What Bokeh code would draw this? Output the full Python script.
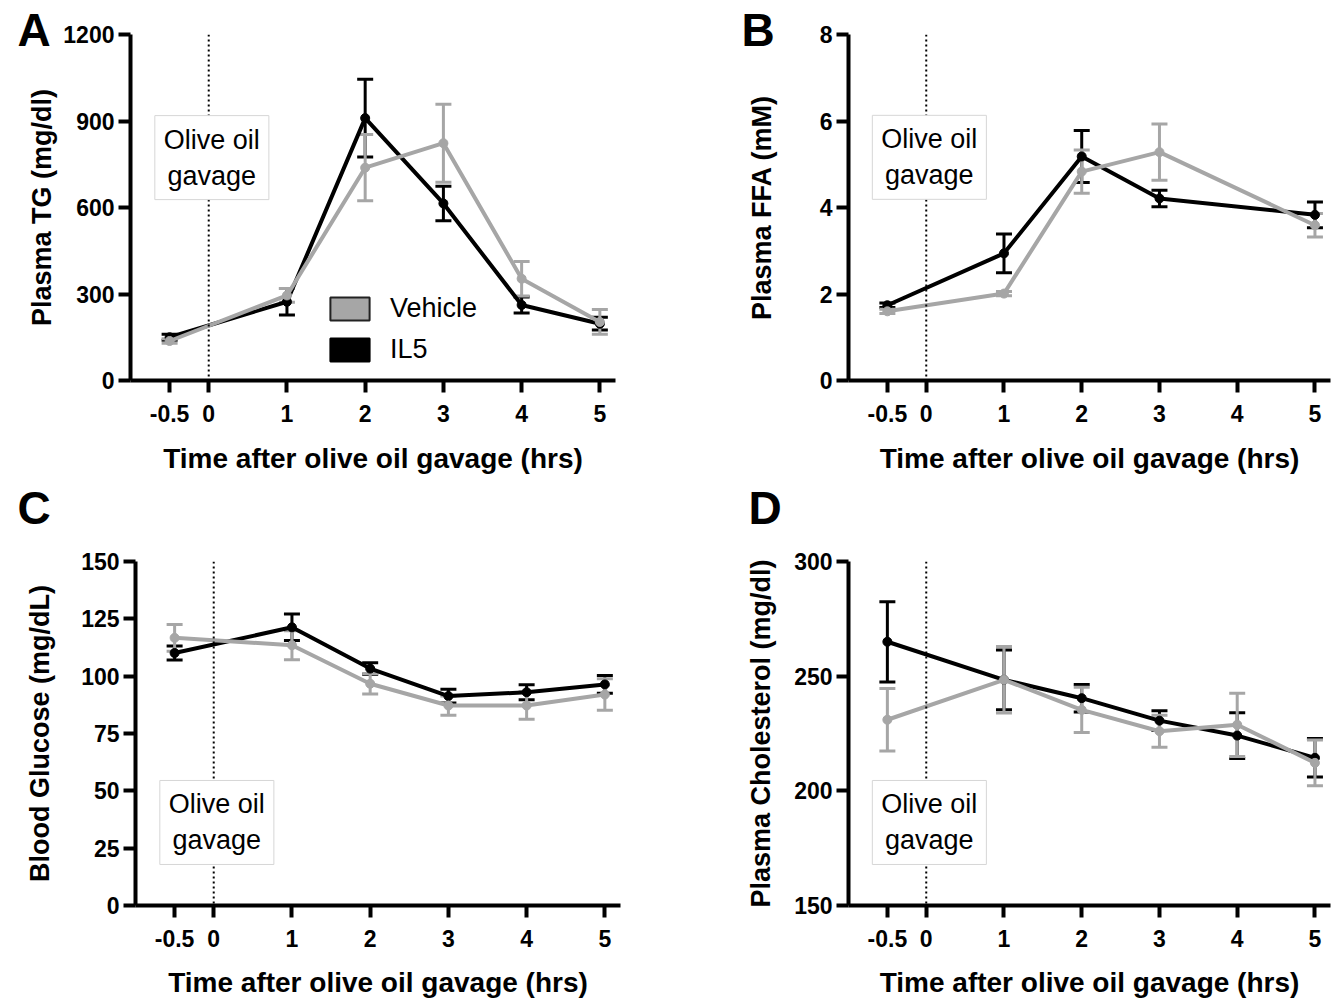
from bokeh.plotting import figure
from bokeh.models import (Range1d, FixedTicker, Span, Label, Whisker, TeeHead, Title,
                          ColumnDataSource, Legend, LegendItem)
from bokeh.layouts import column, row
from bokeh.embed import file_html
from bokeh.resources import INLINE

# ---------------- data ----------------
x_ticks = [-0.5, 0, 1, 2, 3, 4, 5]
x_tick_labels = ["-0.5", "0", "1", "2", "3", "4", "5"]
x_title = "Time after olive oil gavage (hrs)"
series_names = ["Vehicle", "IL5"]
note_text = "Olive oil\ngavage"
panel_letters = ["A", "B", "C", "D"]

# Panel A: plasma TG (mg/dl)
tg_time = [-0.5, 1, 2, 3, 4, 5]
tg_vehicle = [137, 295, 738, 823, 353, 203]
tg_vehicle_sem = [8, 24, 115, 135, 60, 43]
tg_il5 = [150, 273, 910, 614, 262, 197]
tg_il5_sem = [10, 46, 135, 60, 28, 22]
tg_yticks = [0, 300, 600, 900, 1200]

# Panel B: plasma FFA (mM)
ffa_time = [-0.5, 1, 2, 3, 5]
ffa_vehicle = [1.60, 2.01, 4.83, 5.28, 3.59]
ffa_vehicle_sem = [0.05, 0.05, 0.50, 0.65, 0.27]
ffa_il5 = [1.74, 2.94, 5.18, 4.21, 3.83]
ffa_il5_sem = [0.05, 0.45, 0.60, 0.19, 0.30]
ffa_yticks = [0, 2, 4, 6, 8]

# Panel C: blood glucose (mg/dL)
glu_time = [-0.5, 1, 2, 3, 4, 5]
glu_vehicle = [116.7, 113.5, 96.7, 87.2, 87.2, 92.0]
glu_vehicle_sem = [5.8, 6.3, 4.5, 4.2, 6.0, 6.9]
glu_il5 = [110.1, 121.3, 103.3, 91.3, 93.0, 96.4]
glu_il5_sem = [3.0, 5.8, 2.5, 3.0, 3.3, 3.9]
glu_yticks = [0, 25, 50, 75, 100, 125, 150]

# Panel D: plasma cholesterol (mg/dl)
chol_time = [-0.5, 1, 2, 3, 4, 5]
chol_vehicle = [231.0, 248.4, 235.3, 226.0, 228.8, 212.2]
chol_vehicle_sem = [13.6, 14.5, 9.9, 7.0, 13.8, 10.0]
chol_il5 = [265.0, 248.4, 240.4, 230.6, 224.1, 214.4]
chol_il5_sem = [17.5, 13.0, 6.0, 4.3, 10.0, 8.4]
chol_yticks = [150, 200, 250, 300]

VEH = "#a6a6a6"
IL5 = "#000000"
FONT = "Liberation Sans"
NAN = float("nan")


def letter_title(text, offset, valign, standoff):
    return Title(text=text, align="left", vertical_align=valign, offset=offset,
                 standoff=standoff, text_font=FONT, text_font_style="bold",
                 text_font_size="46px", text_color="black")


def add_series(p, t, m, s, color):
    src = ColumnDataSource(dict(x=t, y=m,
                                upper=[a + b for a, b in zip(m, s)],
                                lower=[a - b for a, b in zip(m, s)]))
    p.add_layout(Whisker(source=src, base="x", upper="upper", lower="lower",
                         line_color=color, line_width=3,
                         upper_head=TeeHead(size=16, line_color=color, line_width=3),
                         lower_head=TeeHead(size=16, line_color=color, line_width=3)))
    p.line("x", "y", source=src, line_color=color, line_width=4)
    p.scatter("x", "y", source=src, size=9, fill_color=color, line_color=color)


def panel(t, veh, veh_s, il5, il5_s, yticks, ytitle, note_y,
          width, height, bl, br, bt, bb, ylab_so, xlab_so,
          top_letter=None, below_letter=None, legend=False):
    p = figure(width=width, height=height,
               x_range=Range1d(-1, 5.2), y_range=Range1d(yticks[0], yticks[-1]),
               output_backend="svg", toolbar_location=None,
               min_border_left=bl, min_border_right=br,
               min_border_top=bt, min_border_bottom=bb,
               background_fill_color="white", border_fill_color="white",
               outline_line_color=None)
    p.xgrid.visible = False
    p.ygrid.visible = False

    for ax in (p.xaxis[0], p.yaxis[0]):
        ax.axis_line_width = 4
        ax.axis_line_color = "black"
        ax.major_tick_line_width = 4
        ax.major_tick_line_color = "black"
        ax.major_tick_out = 12
        ax.major_tick_in = 0
        ax.minor_tick_out = 0
        ax.minor_tick_in = 0
        ax.major_label_text_font = FONT
        ax.major_label_text_font_style = "bold"
        ax.major_label_text_font_size = "23px"
        ax.major_label_text_color = "black"
        ax.axis_label_text_font = FONT
        ax.axis_label_text_font_style = "bold"
        ax.axis_label_text_color = "black"

    p.xaxis.ticker = FixedTicker(ticks=x_ticks)
    p.xaxis.major_label_overrides = dict(zip(x_ticks, x_tick_labels))
    p.xaxis.major_label_standoff = 12
    p.xaxis.axis_label = x_title
    p.xaxis.axis_label_standoff = xlab_so
    p.xaxis.axis_label_text_font_size = "28px"

    p.yaxis.ticker = FixedTicker(ticks=yticks)
    p.yaxis.major_label_standoff = 4
    p.yaxis.axis_label = ytitle
    p.yaxis.axis_label_standoff = ylab_so
    p.yaxis.axis_label_text_font_size = "27px"

    p.add_layout(Span(location=0, dimension="height", line_color="black",
                      line_width=2, line_dash="2 3"))

    add_series(p, t, il5, il5_s, IL5)
    add_series(p, t, veh, veh_s, VEH)

    p.add_layout(Label(x=0.04, y=note_y, text=note_text, text_align="center",
                       text_baseline="middle", text_font=FONT, text_font_size="27px",
                       text_color="black", background_fill_color="white",
                       border_line_color="#d6d6d6", border_line_width=1, padding=9))

    if top_letter is not None:
        p.title = letter_title(*top_letter)
    if below_letter is not None:
        p.add_layout(letter_title(*below_letter), "below")

    if legend:
        rv = p.quad(left=[NAN], right=[NAN], top=[NAN], bottom=[NAN], fill_color=VEH,
                    line_color="#222222", line_width=2)
        ri = p.quad(left=[NAN], right=[NAN], top=[NAN], bottom=[NAN], fill_color=IL5,
                    line_color=IL5, line_width=2)
        leg = Legend(items=[LegendItem(label=series_names[0], renderers=[rv]),
                            LegendItem(label=series_names[1], renderers=[ri])],
                     location=(195, 15), padding=0, margin=0, spacing=10,
                     glyph_width=49, glyph_height=29, label_standoff=16,
                     label_text_font=FONT, label_text_font_size="27px",
                     label_text_color="black", label_height=29,
                     background_fill_alpha=0, border_line_alpha=0)
        p.add_layout(leg)
    return p


# top row figures also carry the letters of the panels beneath them
pA = panel(tg_time, tg_vehicle, tg_vehicle_sem, tg_il5, tg_il5_sem,
           tg_yticks, "Plasma TG (mg/dl)", 773,
           669, 545, 130, 54, 34, 165, 3, 18,
           top_letter=(panel_letters[0], -113, "bottom", -42),
           below_letter=(panel_letters[2], -113, "bottom", 6), legend=True)
pB = panel(ffa_time, ffa_vehicle, ffa_vehicle_sem, ffa_il5, ffa_il5_sem,
           ffa_yticks, "Plasma FFA (mM)", 5.16,
           667, 545, 179, 6, 34, 165, 40, 18,
           top_letter=(panel_letters[1], -107, "bottom", -42),
           below_letter=(panel_letters[3], -100, "bottom", 6))
pC = panel(glu_time, glu_vehicle, glu_vehicle_sem, glu_il5, glu_il5_sem,
           glu_yticks, "Blood Glucose (mg/dL)", 36.2,
           669, 455, 135, 49, 16, 95, 23, 17)
pD = panel(chol_time, chol_vehicle, chol_vehicle_sem, chol_il5, chol_il5_sem,
           chol_yticks, "Plasma Cholesterol (mg/dl)", 186.2,
           667, 455, 179, 6, 16, 95, 15, 17)

layout = column(row(pA, pB), row(pC, pD))
open("out.html", "w").write(file_html(layout, INLINE))
